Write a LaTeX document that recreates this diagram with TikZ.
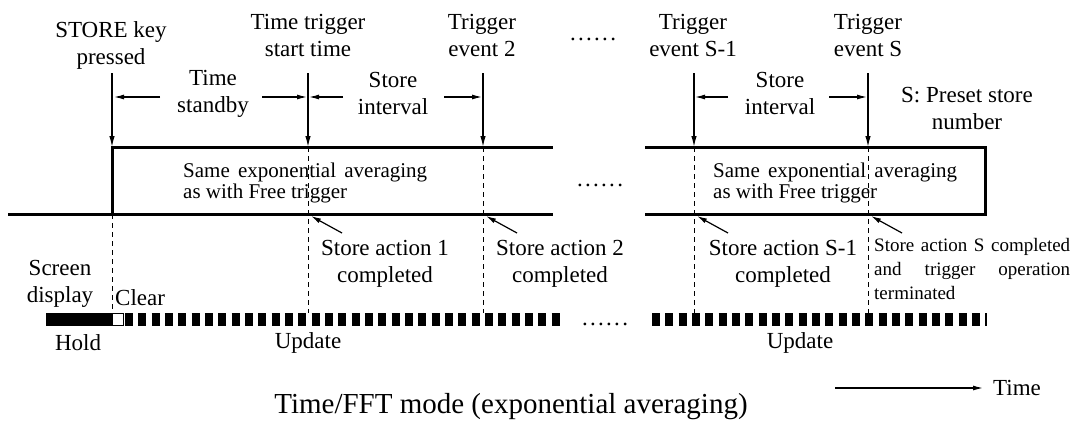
\documentclass[tikz,border=0pt]{standalone}
\usepackage{fontspec}
\setmainfont{Liberation Serif}
\usetikzlibrary{arrows.meta}
\newcommand{\spdots}{.\kern2.3bp.\kern2.3bp.\kern2.3bp.\kern2.3bp.\kern2.3bp.}
\begin{document}
\begin{tikzpicture}[x=1bp,y=-1bp,
  lbl/.style={font=\fontsize{23bp}{27bp}\selectfont, align=center, inner sep=0pt},
  boxtxt/.style={font=\fontsize{21bp}{21bp}\selectfont, align=left, inner sep=0pt, anchor=west},
  smalltxt/.style={font=\fontsize{19bp}{24bp}\selectfont, align=left, inner sep=0pt, anchor=west},
  titletxt/.style={font=\fontsize{29bp}{33bp}\selectfont, inner sep=0pt},
  boxline/.style={line width=3bp, line join=miter},
  evt/.style={line width=1.3bp, -{Latex[length=11bp,width=5.5bp]}},
  dim/.style={line width=1.2bp, -{Latex[length=10bp,width=5bp]}},
  dashline/.style={line width=1bp, dash pattern=on 5bp off 4bp},
  ptr/.style={line width=1.2bp, -{Latex[length=10bp,width=5bp]}},
  blocks/.style={line width=13bp, dash pattern=on 8bp off 5.33bp},
]
\useasboundingbox (0,0) rectangle (1083,422);

% event coordinates
\foreach \n/\x in {a/112,b/308,c/483,d/694,e/868}{
  \coordinate (\n-top) at (\x,73);
  \coordinate (\n-hit) at (\x,147);
  \coordinate (\n-low) at (\x,214);
  \coordinate (\n-bar) at (\x,313);
}
\coordinate (Lstart) at (8,214);
\coordinate (gapL-top) at (553,147);
\coordinate (gapL-bot) at (553,214);
\coordinate (gapR-top) at (645,147);
\coordinate (gapR-bot) at (645,214);
\coordinate (rc-top) at (985,147);
\coordinate (rc-bot) at (985,214);

% signal box
\draw[boxline] (Lstart) -- (a-low) -- (a-hit) -- (gapL-top);
\draw[boxline] (a-low) -- (gapL-bot);
\draw[boxline] (gapR-top) -- (rc-top) -- (rc-bot) -- (gapR-bot);

% event arrows
\foreach \n in {a,b,c,d,e}{ \draw[evt] (\n-top) -- (\n-hit); }

% dashed lines
\draw[dashline] (a-low) -- (a-bar);
\foreach \n in {b,c,d,e}{ \draw[dashline] (\n-hit) -- (\n-bar); }

% top labels
\node[lbl] (lblA) at (111,45) {STORE key\\pressed};
\node[lbl] (lblB) at (308,35) {Time trigger\\start time};
\node[lbl] (lblC) at (482,35) {Trigger\\event 2};
\node[lbl] (dotsTop) at (593,39) {\spdots};
\node[lbl] (lblD) at (693,35) {Trigger\\event S-1};
\node[lbl] (lblE) at (868,35) {Trigger\\event S};

% interval labels and dimension arrows
\node[lbl] (standby) at (213,93.5) {Time\\standby};
\node[lbl] (int1) at (393,93.5) {Store\\interval};
\node[lbl] (int2) at (780,93.5) {Store\\interval};
\node[lbl] (preset) at (967,108) {S: Preset store\\number};

\coordinate (d1s) at (160,97); \coordinate (d1e) at (114,97);
\coordinate (d2s) at (262,97); \coordinate (d2e) at (307,97);
\coordinate (d3s) at (343,97); \coordinate (d3e) at (309,97);
\coordinate (d4s) at (444,97); \coordinate (d4e) at (482,97);
\coordinate (d5s) at (728,97); \coordinate (d5e) at (695,97);
\coordinate (d6s) at (829,97); \coordinate (d6e) at (867,97);
\foreach \i in {1,...,6}{ \draw[dim] (d\i s) -- (d\i e); }

% box texts
\node[boxtxt] (box1) at (183,182.5) {\makebox[244bp][s]{Same exponential averaging}\\as with Free trigger};
\node[boxtxt] (box2) at (713,182.5) {\makebox[244bp][s]{Same exponential averaging}\\as with Free trigger};
\node[lbl] (dotsMid) at (600,185) {\spdots};

% store action labels
\node[lbl] (sa1) at (385,263.5) {Store action 1\\completed};
\node[lbl] (sa2) at (560,263.5) {Store action 2\\completed};
\node[lbl] (saS1) at (783,263.5) {Store action S-1\\completed};
\node[smalltxt] (saS) at (874,269) {\makebox[196bp][s]{Store action S completed}\\\makebox[196bp][s]{and trigger operation}\\terminated};

\foreach \n/\x in {b/308,c/483,d/694,e/868}{
  \coordinate (\n-tail) at (\x+34,233);
  \coordinate (\n-tip) at (\x+3,216);
  \draw[ptr] (\n-tail) -- (\n-tip);
}

% screen display
\node[lbl] (screen) at (60,284) {Screen\\display};
\node[lbl, anchor=west] (clear) at (115,298) {Clear};
\fill (46,313) rectangle (112,326);
\draw[line width=0.8bp] (112.5,313.5) rectangle (123.5,325.5);
\draw[blocks] (125,319.5) -- (563,319.5);
\draw[blocks] (652,319.5) -- (987,319.5);
\node[lbl] (dotsBar) at (605,324) {\spdots};
\node[lbl] (hold) at (78,343) {Hold};
\node[lbl] (upd1) at (308,343) {Update};
\node[lbl] (upd2) at (800,343) {Update};

% time axis
\coordinate (taxis) at (835,388);
\node[lbl, anchor=west] (timelbl) at (993,388) {Time};
\draw[ptr] (taxis) -- ([xshift=-10bp]timelbl.west);

% title
\node[titletxt] (title) at (511,407) {Time/FFT mode (exponential averaging)};
\end{tikzpicture}
\end{document}
